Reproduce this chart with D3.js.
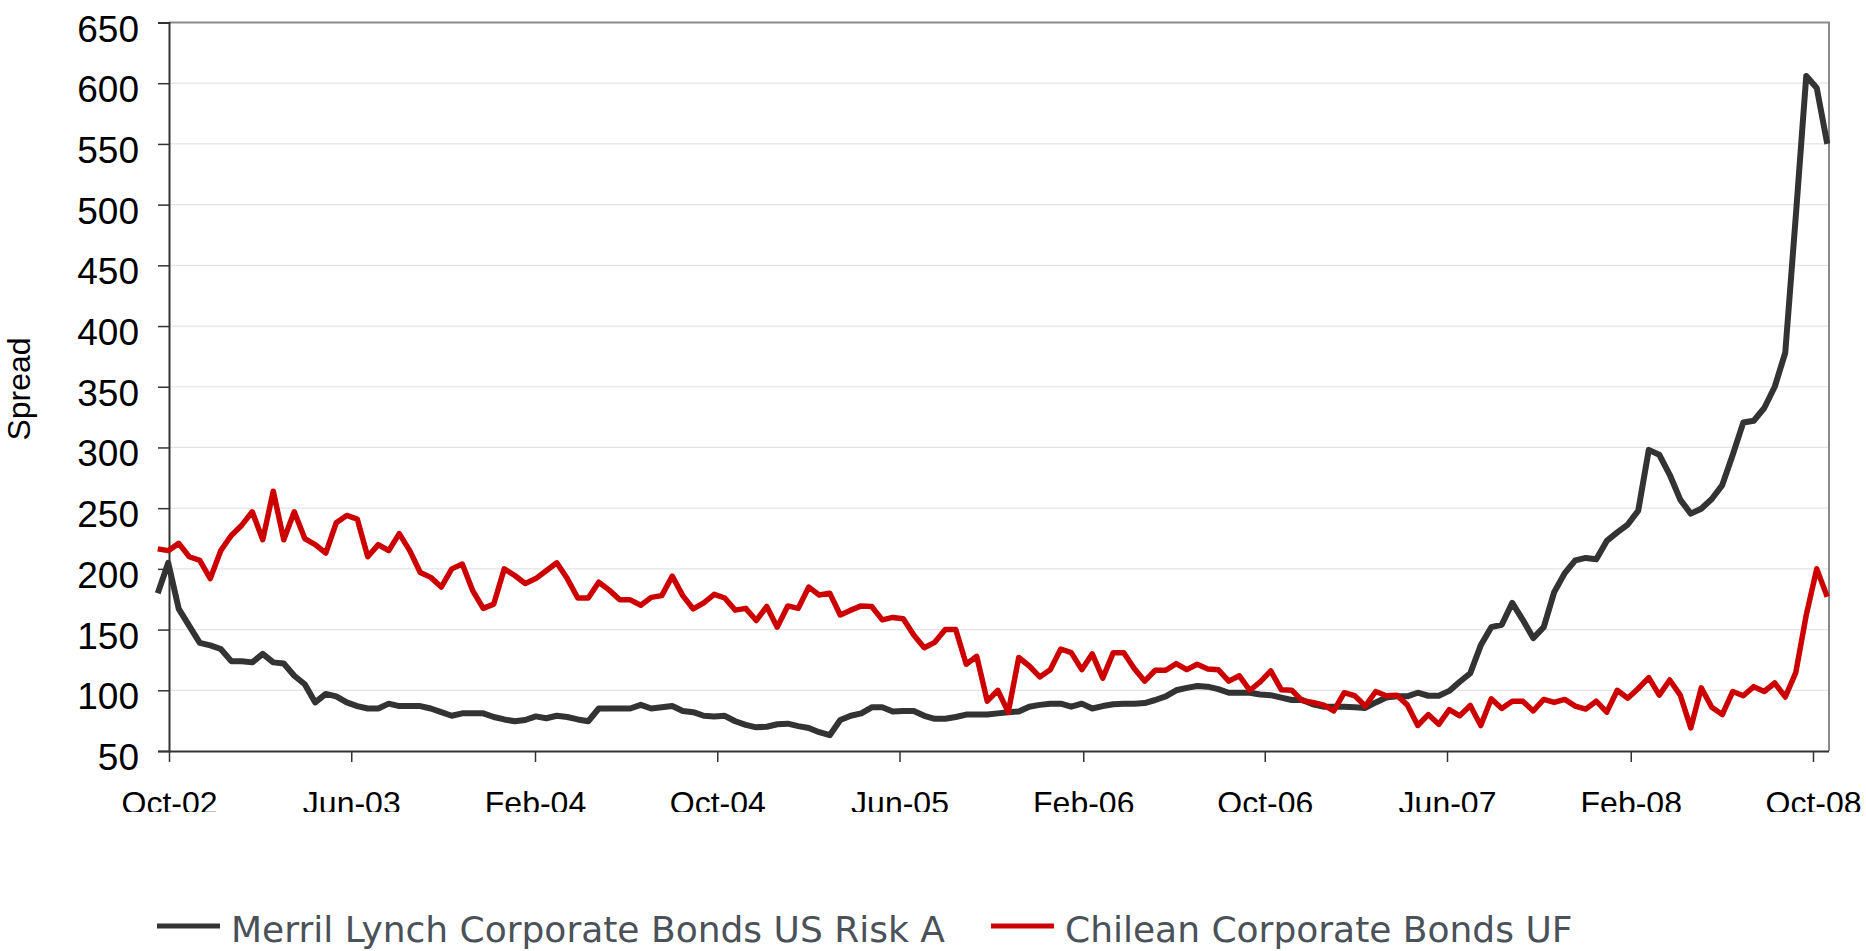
<!DOCTYPE html>
<html><head><meta charset="utf-8">
<script src="https://cdn.jsdelivr.net/npm/d3@7"></script>
<style>html,body{margin:0;padding:0;background:#fff;} svg{display:block}</style>
</head><body><svg id="c" width="1866" height="951"></svg>
<script>
// ---- data (biweekly observations starting at startDate) ----
const startDate = "2002-09-16";
const stepDays = 14;
const merrillLynch = [
180,205,167,153,139,137,134,124,124,123,130,123,122,112,105,90,97,95,90,87,
85,85,89,87,87,87,85,82,79,81,81,81,78,76,74.5,75.5,78.5,77,79,78,
76,74.5,85,85,85,85,88,85,86,87,83,82,79,78.5,79,74.5,71.5,69.5,70,72,
72.5,70.5,69,65.5,63,75.5,79,81,86,86,82.5,83,83,79,76.5,76.5,78,80,80,80,
81,82,82.5,86.5,88,89,89,86.5,89,85,87,88.5,89,89,89.5,92,95,100,102,103.5,
103,101,98,98,98,96.5,96,94,92,92,88.5,86.5,86.5,86.5,86,85.5,90,94,95,95,
98,95.5,95.5,99.5,107,114,137,152,154,172,158,143,152,181,196.5,207,209,208,223,230,
236.5,248,298,294,277.5,257,245.5,249.5,257.5,269,294,320.5,322,332.5,350,378,490,606,596,550
];
const chileanUF = [
216.5,215,221,210,207,192,215,227.5,236,247,224,264,224,247,225,220,213,238,244,241,
210,220,215,229,215,197,193,185,200,204,182,167.5,171,200,194.5,188,192,198.5,205,192,
176,176,189,182.5,174.5,174.5,170,176.5,178,194,178,167,172,179,176,166,167.5,157.5,169,152,
169.5,167.5,185,178.5,180,162,166,169.5,169,158,160,159,145.5,135,139.5,150,150,121.5,128,91,
100,82,127,120,111,117,134,131,117,130,110,131,131,118,107.5,116.5,116.5,122,117,121.5,
117.5,117,107.5,112,100,107,116,100.5,100,91.5,90,88,83,98,95.5,87,99,95.5,96,88,
71,80,72,84,79,87.5,71,93,85,91,91,83,92.5,90,92.5,87,84.5,91,82,100,
93.5,101.5,110.5,96,108.5,96,69,102,86,80,99,95.5,103,99,106,94.5,114.5,162,200,177
];
const tickDates = ["2002-10-01","2003-06-01","2004-02-01","2004-10-01","2005-06-01","2006-02-01","2006-10-01","2007-06-01","2008-02-01","2008-10-01"];
const tickLabels = ["Oct-02","Jun-03","Feb-04","Oct-04","Jun-05","Feb-06","Oct-06","Jun-07","Feb-08","Oct-08"];
const yTickValues = [50,100,150,200,250,300,350,400,450,500,550,600,650];
const seriesNames = ["Merril Lynch Corporate Bonds US Risk A","Chilean Corporate Bonds UF"];
const seriesColors = ["#333333","#cc0000"];
const yTitle = "Spread";

// ---- layout ----
const L = 169, R = 1829, T = 22.5, B = 751;
const parse = d3.utcParse("%Y-%m-%d");
const start = parse(startDate);
const dates = merrillLynch.map((_, i) => d3.utcDay.offset(start, i * stepDays));

const x = d3.scaleUtc().domain([parse("2002-10-01"), parse("2008-10-01")]).range([L, 1813]);
const y = d3.scaleLinear().domain([50, 650]).range([B, T]);

const svg = d3.select("#c");

// gridlines
svg.append("g").selectAll("line").data(yTickValues.filter(v => v > 50 && v < 650)).join("line")
  .attr("x1", L).attr("x2", R).attr("y1", d => y(d)).attr("y2", d => y(d))
  .attr("stroke", "#e4e4e4").attr("stroke-width", 1.2);

// frame top/right
svg.append("path").attr("d", `M${L},${T}H${R}V${B}`).attr("fill", "none")
  .attr("stroke", "#8a8a8a").attr("stroke-width", 2);

// y axis
const yAxis = d3.axisLeft(y).tickValues(yTickValues).tickSize(11).tickPadding(19).tickFormat(d3.format("d"));
const gy = svg.append("g").attr("transform", `translate(${L},0)`).call(yAxis);
gy.select(".domain").attr("stroke", "#333").attr("stroke-width", 2);
gy.selectAll(".tick line").attr("stroke", "#333").attr("stroke-width", 1.5);
gy.selectAll(".tick text").attr("font-family", "Liberation Sans, Arial, sans-serif")
  .attr("font-size", 37).attr("fill", "#000").attr("dy", "0.5em");

// x axis (labels clipped at the bottom as in the reference)
svg.append("defs").append("clipPath").attr("id", "xclip").append("rect")
  .attr("x", 0).attr("y", -15).attr("width", 1866).attr("height", 76);
const xAxis = d3.axisBottom(x).tickValues(tickDates.map(parse)).tickSize(11)
  .tickFormat((d, i) => tickLabels[i]);
const gx = svg.append("g").attr("transform", `translate(0,${B})`).attr("clip-path", "url(#xclip)").call(xAxis);
gx.select(".domain").attr("d", `M${L},0.5H${R}`).attr("stroke", "#333").attr("stroke-width", 2);
gx.selectAll(".tick line").attr("stroke", "#333").attr("stroke-width", 1.5);
gx.selectAll(".tick text").attr("font-family", "Liberation Sans, Arial, sans-serif")
  .attr("font-size", 32).attr("fill", "#000").attr("y", 63).attr("dy", 0);

// y title
svg.append("text").attr("transform", `translate(30,389) rotate(-90)`)
  .attr("text-anchor", "middle").attr("font-family", "Liberation Sans, Arial, sans-serif")
  .attr("font-size", 32).attr("fill", "#000").text(yTitle);

// lines
const line = d3.line().x((d, i) => x(dates[i])).y(d => y(d));
[merrillLynch, chileanUF].forEach((s, k) => {
  svg.append("path").datum(s).attr("d", line).attr("fill", "none")
    .attr("stroke", seriesColors[k]).attr("stroke-width", k === 0 ? 6 : 5.5)
    .attr("stroke-linejoin", "round");
});

// legend
const legendX = [157, 991];
seriesNames.forEach((n, k) => {
  svg.append("line").attr("x1", legendX[k]).attr("x2", legendX[k] + 63)
    .attr("y1", 926).attr("y2", 926).attr("stroke", seriesColors[k]).attr("stroke-width", 5);
  svg.append("text").attr("x", legendX[k] + 74).attr("y", 942)
    .attr("font-family", "DejaVu Sans, Verdana, sans-serif").attr("font-size", 36)
    .attr("fill", "#4a5159").text(n);
});
</script></body></html>
